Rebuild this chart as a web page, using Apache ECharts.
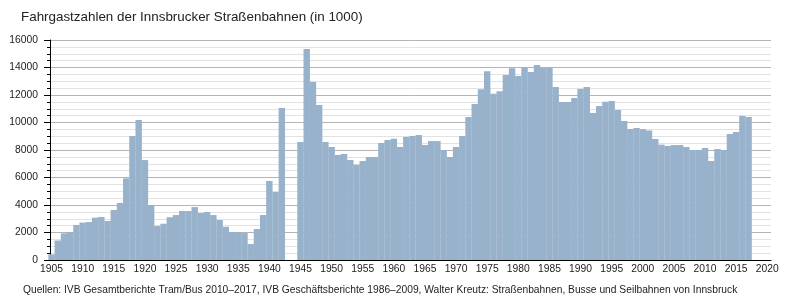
<!DOCTYPE html>
<html>
<head>
<meta charset="utf-8">
<script src="https://cdn.jsdelivr.net/npm/echarts@6/dist/echarts.min.js"></script>
<style>
  html, body { margin: 0; padding: 0; background: #fff; }
  #main { width: 800px; height: 300px; }
</style>
</head>
<body>
<div id="main"></div>
<script>
// Jahre (1943 und 1944 fehlen)
var years = [
  1905, 1906, 1907, 1908, 1909, 1910, 1911, 1912, 1913, 1914,
  1915, 1916, 1917, 1918, 1919, 1920, 1921, 1922, 1923, 1924,
  1925, 1926, 1927, 1928, 1929, 1930, 1931, 1932, 1933, 1934,
  1935, 1936, 1937, 1938, 1939, 1940, 1941, 1942,
  1945, 1946, 1947, 1948, 1949, 1950, 1951, 1952, 1953, 1954,
  1955, 1956, 1957, 1958, 1959, 1960, 1961, 1962, 1963, 1964,
  1965, 1966, 1967, 1968, 1969, 1970, 1971, 1972, 1973, 1974,
  1975, 1976, 1977, 1978, 1979, 1980, 1981, 1982, 1983, 1984,
  1985, 1986, 1987, 1988, 1989, 1990, 1991, 1992, 1993, 1994,
  1995, 1996, 1997, 1998, 1999, 2000, 2001, 2002, 2003, 2004,
  2005, 2006, 2007, 2008, 2009, 2010, 2011, 2012, 2013, 2014,
  2015, 2016, 2017
];

// Fahrgaeste in 1000
var passengers = [
  410, 1420, 1940, 2040, 2550, 2720, 2760, 3080, 3130, 2840,
  3640, 4150, 5940, 9020, 10180, 7270, 3980, 2470, 2640, 3110,
  3270, 3560, 3560, 3850, 3420, 3490, 3270, 2910, 2420, 2040,
  2040, 1960, 1160, 2250, 3270, 5750, 4950, 11050,
  8580, 15340, 12950, 11270, 8580, 8220, 7640, 7710, 7270, 6930,
  7200, 7490, 7490, 8510, 8730, 8820, 8220, 8950, 9020, 9090,
  8360, 8650, 8650, 8000, 7490, 8220, 9020, 10400, 11350, 12410,
  13720, 12100, 12270, 13450, 13940, 13380, 14040, 13670, 14180, 13960,
  14010, 12580, 11490, 11490, 11780, 12440, 12580, 10690, 11200, 11510,
  11560, 10910, 10110, 9530, 9600, 9530, 9410, 8800, 8390, 8290,
  8360, 8360, 8220, 8000, 8000, 8150, 7200, 8070, 8000, 9160,
  9310, 10470, 10400
];

var yTicks = { min: 0, max: 16000, step: 2000 };
var xRange = { min: 1904.75, max: 2020.6 };

var barData = years.map(function (y, i) {
  return [y, passengers[i]];
});

var font = "'Liberation Sans', Arial, sans-serif";

var chart = echarts.init(document.getElementById('main'), null, { renderer: 'canvas' });

var option = {
  animation: false,
  title: [{
    text: 'Fahrgastzahlen der Innsbrucker Straßenbahnen (in 1000)',
    left: 21,
    top: 11,
    padding: 0,
    textStyle: {
      fontFamily: font,
      fontSize: 13.4,
      fontWeight: 'normal',
      color: '#222'
    }
  }, {
    text: 'Quellen: IVB Gesamtberichte Tram/Bus 2010–2017, IVB Geschäftsberichte 1986–2009, Walter Kreutz: Straßenbahnen, Busse und Seilbahnen von Innsbruck',
    left: 23,
    top: 285,
    padding: 0,
    textStyle: {
      fontFamily: font,
      fontSize: 10.25,
      fontWeight: 'normal',
      color: '#222'
    }
  }],
  grid: {
    left: 50,
    right: 29,
    top: 40,
    bottom: 40,
    containLabel: false
  },
  xAxis: {
    type: 'value',
    min: xRange.min,
    max: xRange.max,
    splitNumber: 23,
    axisLine: {
      show: true,
      onZero: false,
      lineStyle: { color: '#000', width: 1 }
    },
    axisTick: { show: false },
    splitLine: { show: false },
    axisLabel: {
      margin: 4,
      fontFamily: font,
      fontSize: 10.3,
      color: '#222',
      formatter: function (v) {
        return v % 5 === 0 ? String(v) : '';
      }
    }
  },
  yAxis: {
    type: 'value',
    min: yTicks.min,
    max: yTicks.max,
    interval: yTicks.step,
    axisLine: {
      show: true,
      lineStyle: { color: '#000', width: 1 }
    },
    axisTick: {
      show: true,
      length: 6,
      lineStyle: { color: '#000' }
    },
    minorTick: {
      show: true,
      splitNumber: 4,
      length: 3,
      lineStyle: { color: '#000' }
    },
    splitLine: {
      show: true,
      lineStyle: { color: '#b4b4b4', width: 1 }
    },
    minorSplitLine: {
      show: true,
      lineStyle: { color: '#e2e2e2', width: 1 }
    },
    axisLabel: {
      margin: 12,
      fontFamily: font,
      fontSize: 10.3,
      color: '#222',
      formatter: function (v) {
        return String(v);
      }
    }
  },
  series: [{
    name: 'Fahrgäste',
    type: 'bar',
    data: barData,
    barWidth: '103%',
    itemStyle: { color: '#98b2cc' },
    z: 1
  }]
};

chart.setOption(option);
</script>
</body>
</html>
